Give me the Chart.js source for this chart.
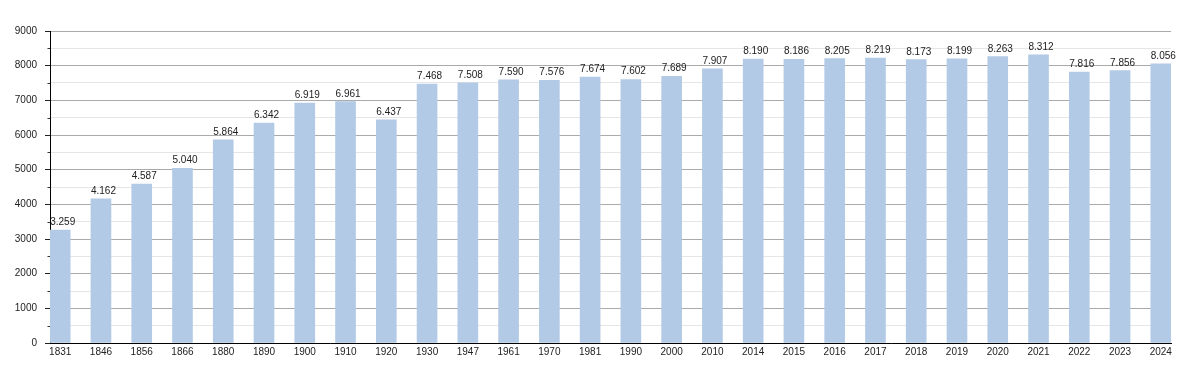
<!DOCTYPE html>
<html>
<head>
<meta charset="utf-8">
<script src="https://cdn.jsdelivr.net/npm/chart.js@4"></script>
<style>
    body { margin: 0; background: #fff; }
    #wrap { width: 1200px; height: 373px; }
</style>
</head>
<body>
<div id="wrap"><canvas id="popChart" width="1200" height="373"></canvas></div>
<script>
// ============ Data ============
const years = ['1831', '1846', '1856', '1866', '1880', '1890', '1900', '1910', '1920', '1930',
    '1947', '1961', '1970', '1981', '1990', '2000', '2010', '2014', '2015', '2016',
    '2017', '2018', '2019', '2020', '2021', '2022', '2023', '2024'];
const population = [3259, 4162, 4587, 5040, 5864, 6342, 6919, 6961, 6437, 7468,
    7508, 7590, 7576, 7674, 7602, 7689, 7907, 8190, 8186, 8205,
    8219, 8173, 8199, 8263, 8312, 7816, 7856, 8056];
const yTicks = [0, 1000, 2000, 3000, 4000, 5000, 6000, 7000, 8000, 9000];
const yMinorTicks = [500, 1500, 2500, 3500, 4500, 5500, 6500, 7500, 8500];

// ============ Style ============
const FONT = '"Liberation Sans", Arial, sans-serif';
const BAR_COLOR = '#b2cae5';
const TEXT_COLOR = '#222';

function formatValue(v) {
    return Math.floor(v / 1000) + '.' + String(v % 1000).padStart(3, '0');
}

// value labels above bars, left-aligned on the bar edge
const valueLabels = {
    id: 'valueLabels',
    afterDatasetsDraw(chart) {
        const ctx = chart.ctx;
        const meta = chart.getDatasetMeta(0);
        ctx.save();
        ctx.font = '10px ' + FONT;
        ctx.fillStyle = TEXT_COLOR;
        ctx.textAlign = 'left';
        ctx.textBaseline = 'alphabetic';
        meta.data.forEach((bar, i) => {
            const left = bar.x - bar.width / 2;
            ctx.fillText(formatValue(population[i]), left, bar.y - 5);
        });
        ctx.restore();
    }
};

// small minor ticks on the y axis
const minorTicks = {
    id: 'minorTicks',
    afterDraw(chart) {
        const ctx = chart.ctx;
        const y = chart.scales.y;
        const left = chart.chartArea.left;
        ctx.save();
        ctx.strokeStyle = '#333';
        ctx.lineWidth = 1;
        yMinorTicks.forEach(v => {
            const py = Math.round(y.getPixelForValue(v)) + 0.5;
            ctx.beginPath();
            ctx.moveTo(left - 2.5, py);
            ctx.lineTo(left, py);
            ctx.stroke();
        });
        ctx.restore();
    }
};

// ============ Chart ============
const ctx = document.getElementById('popChart').getContext('2d');
new Chart(ctx, {
    type: 'bar',
    data: {
        datasets: [{
            data: population.map((v, i) => ({ x: i, y: v })),
            backgroundColor: BAR_COLOR,
            borderWidth: 0,
            barThickness: 20
        }]
    },
    options: {
        responsive: false,
        animation: false,
        layout: { padding: { top: 31, right: 29, left: 0, bottom: 0 } },
        plugins: {
            legend: { display: false },
            tooltip: { enabled: false }
        },
        scales: {
            x: {
                type: 'linear',
                min: -0.25,
                max: 27.25,
                offset: false,
                grid: { display: false, drawTicks: false },
                border: { display: true, color: '#000', width: 1 },
                afterBuildTicks: s => { s.ticks = years.map((_, i) => ({ value: i })); },
                afterFit: s => { s.height = 30; },
                ticks: {
                    autoSkip: false,
                    maxRotation: 0,
                    padding: 3,
                    color: TEXT_COLOR,
                    font: { family: FONT, size: 10 },
                    callback: v => years[v]
                }
            },
            y: {
                min: 0,
                max: 9000,
                afterBuildTicks: s => {
                    s.ticks = yTicks.concat(yMinorTicks).sort((a, b) => a - b).map(v => ({ value: v }));
                },
                afterFit: s => { s.width = 50; },
                grid: {
                    color: c => (c.tick.value % 1000 === 0 ? '#aaaaaa' : '#e6e6e6'),
                    tickColor: c => (c.tick.value % 1000 === 0 ? '#222' : 'rgba(0,0,0,0)'),
                    tickLength: 5,
                    lineWidth: 1
                },
                border: { display: true, color: '#000', width: 1 },
                ticks: {
                    padding: 8,
                    color: TEXT_COLOR,
                    font: { family: FONT, size: 10 },
                    callback: v => (v % 1000 === 0 ? String(v) : '')
                }
            }
        }
    },
    plugins: [valueLabels, minorTicks]
});
</script>
</body>
</html>
